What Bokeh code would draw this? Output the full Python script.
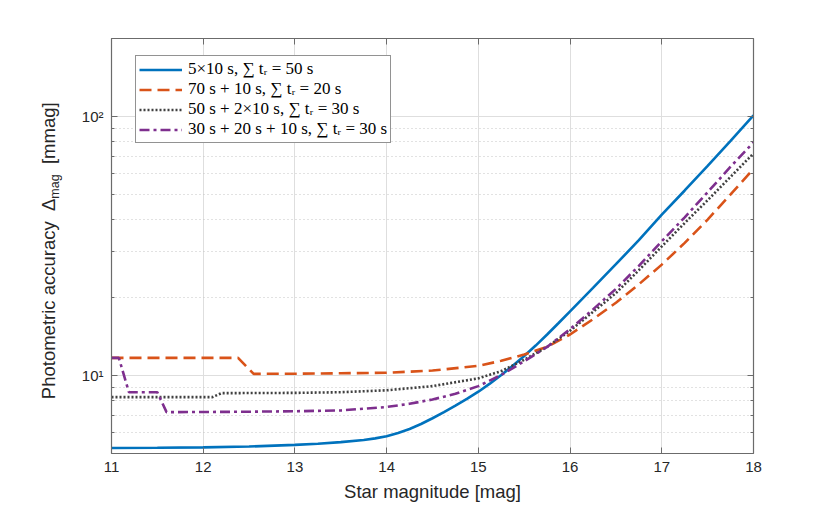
from bokeh.plotting import figure
from bokeh.models import (Range1d, FixedTicker, LinearAxis, LogAxis, Legend,
                          LegendItem, Div)
from bokeh.layouts import row
from bokeh.embed import file_html
from bokeh.resources import INLINE

# ---------------- data ----------------
x_ticks = [11, 12, 13, 14, 15, 16, 17, 18]
y_major = [10, 100]
y_minor = [5, 6, 7, 8, 9, 20, 30, 40, 50, 60, 70, 80, 90, 200]
y_tick_labels = {10: "10\u00b9", 100: "10\u00b2"}

x_label = "Star magnitude [mag]"
y_label_main = "Photometric accuracy&nbsp; \u0394"
y_label_sub = "mag"
y_label_unit = "[mmag]"

labels = [
    "5\u00d710 s, \u2211 t\u1d63 = 50 s",
    "70 s + 10 s, \u2211 t\u1d63 = 20 s",
    "50 s + 2\u00d710 s, \u2211 t\u1d63 = 30 s",
    "30 s + 20 s + 10 s, \u2211 t\u1d63 = 30 s",
]

blue_x = [11.0, 11.5, 12.0, 12.5, 13.0, 13.25, 13.5, 13.75, 13.875, 14.0,
          14.125, 14.25, 14.375, 14.5, 14.625, 14.75, 14.875, 15.0, 15.125,
          15.25, 15.375, 15.5, 15.625, 15.75, 15.875, 16.0, 16.25, 16.5,
          16.75, 17.0, 17.25, 17.5, 17.75, 18.0]
blue_y = [5.25, 5.26, 5.28, 5.32, 5.40, 5.45, 5.53, 5.64, 5.72, 5.83,
          6.0, 6.22, 6.5, 6.84, 7.22, 7.65, 8.12, 8.66, 9.3,
          10.05, 10.9, 11.9, 13.05, 14.4, 15.95, 17.7, 21.8, 26.9,
          33.3, 41.8, 51.8, 64.5, 80.5, 101.0]

orange_x = [11.0, 12.38, 12.55, 13.0, 13.5, 14.0, 14.5, 15.0, 15.25, 15.5,
            15.75, 16.0, 16.25, 16.5, 16.75, 17.0, 17.25, 17.5, 17.75, 18.0]
orange_y = [11.7, 11.7, 10.15, 10.16, 10.2, 10.25, 10.45, 10.9, 11.4, 12.05,
            12.9, 14.4, 16.5, 19.1, 22.5, 26.8, 32.5, 40.0, 50.0, 62.7]

gray_x = [11.0, 12.1, 12.2, 13.0, 13.5, 14.0, 14.5, 15.0, 15.25, 15.5, 15.75,
          16.0, 16.25, 16.5, 16.75, 17.0, 17.25, 17.5, 17.75, 18.0]
gray_y = [8.25, 8.25, 8.55, 8.57, 8.62, 8.77, 9.1, 9.75, 10.4, 11.5, 12.9,
          14.9, 17.6, 20.8, 25.5, 31.5, 38.8, 47.5, 58.5, 72.0]

purple_x = [11.0, 11.08, 11.19, 11.5, 11.6, 12.0, 12.5, 13.0, 13.5, 14.0,
            14.25, 14.5, 14.75, 15.0, 15.25, 15.5, 15.75, 16.0, 16.25, 16.5,
            16.75, 17.0, 17.25, 17.5, 17.75, 18.0]
purple_y = [11.7, 11.7, 8.62, 8.62, 7.22, 7.23, 7.25, 7.28, 7.33, 7.56,
            7.78, 8.08, 8.5, 9.1, 10.05, 11.35, 12.9, 15.1, 18.0, 21.6,
            26.5, 33.0, 40.8, 51.0, 64.0, 79.4]

# ---------------- styles ----------------
AX = "#6b6b6b"
TXT = "#262626"
FONT = "Liberation Sans"
H = 505
DIV_W = 52

p = figure(width=766, height=H, x_range=Range1d(11, 18),
           y_range=Range1d(5, 200), y_axis_type="log",
           output_backend="svg", toolbar_location=None,
           min_border_left=49, min_border_right=75,
           min_border_top=38, min_border_bottom=52)
p.outline_line_color = None
p.background_fill_color = "white"
p.border_fill_color = "white"

bottom = p.below[0]
left = p.left[0]

xt = FixedTicker(ticks=x_ticks)
yt = FixedTicker(ticks=y_major, minor_ticks=y_minor)
bottom.ticker = xt
left.ticker = yt
p.xgrid.ticker = xt
p.ygrid.ticker = yt
left.major_label_overrides = y_tick_labels

top = LinearAxis(ticker=FixedTicker(ticks=x_ticks))
right = LogAxis(ticker=FixedTicker(ticks=y_major, minor_ticks=y_minor))
p.add_layout(top, "above")
p.add_layout(right, "right")

for ax in [bottom, left, top, right]:
    ax.axis_line_color = AX
    ax.axis_line_width = 1.2
    ax.major_tick_line_color = AX
    ax.minor_tick_line_color = AX
    ax.major_tick_in = 6
    ax.major_tick_out = 0
    ax.minor_tick_in = 3
    ax.minor_tick_out = 0
    ax.major_label_text_font = FONT
    ax.major_label_text_font_size = "15px"
    ax.major_label_text_color = TXT
    ax.major_label_standoff = 8

for ax in [bottom, top]:
    ax.minor_tick_line_color = None
for ax in [top, right]:
    ax.major_label_text_color = None
    ax.major_label_text_font_size = "1px"
    ax.major_label_standoff = 0

bottom.axis_label = x_label
bottom.axis_label_text_font = FONT
bottom.axis_label_text_font_size = "18.5px"
bottom.axis_label_text_font_style = "normal"
bottom.axis_label_text_color = TXT
bottom.axis_label_standoff = 6

p.xgrid.grid_line_color = "#dedede"
p.ygrid.grid_line_color = "#dedede"
p.ygrid.minor_grid_line_color = "#c4c4c4"
p.ygrid.minor_grid_line_dash = "1 3"

r1 = p.line(blue_x, blue_y, line_color="#0072BD", line_width=2.6)
r2 = p.line(orange_x, orange_y, line_color="#D95319", line_width=2.6,
            line_dash="12 6")
r3 = p.line(gray_x, gray_y, line_color="#404040", line_width=2.6,
            line_dash="2 2")
r4 = p.line(purple_x, purple_y, line_color="#7E2F8E", line_width=2.6,
            line_dash="10 4 3 4")

legend = Legend(items=[LegendItem(label=labels[i], renderers=[r])
                       for i, r in enumerate([r1, r2, r3, r4])],
                location=(24, 310), margin=0, padding=3, spacing=0,
                glyph_width=43, glyph_height=19, label_height=19,
                label_standoff=6, label_text_font="Liberation Serif",
                label_text_font_size="17px", label_text_color="black",
                border_line_color="#262626", border_line_width=1,
                background_fill_color="white", background_fill_alpha=1)
p.add_layout(legend)

# y-axis label with a real subscript (HTML text, rotated)
ylab_html = (
    f'<div style="width:{DIV_W}px;height:{H}px;display:flex;'
    'align-items:center;justify-content:center;overflow:visible;">'
    '<div style="transform:translate(19px,-7px) rotate(-90deg);'
    f'white-space:nowrap;font-family:\'{FONT}\';font-size:18.5px;'
    f'color:{TXT};line-height:1;">'
    f'{y_label_main}<sub style="font-size:12.5px;vertical-align:-4px;">'
    f'{y_label_sub}</sub>&nbsp; {y_label_unit}</div></div>'
)
ylab = Div(text=ylab_html, width=DIV_W, height=H,
           styles={"overflow": "visible"})

layout = row(ylab, p)
open("out.html", "w").write(file_html(layout, INLINE))
